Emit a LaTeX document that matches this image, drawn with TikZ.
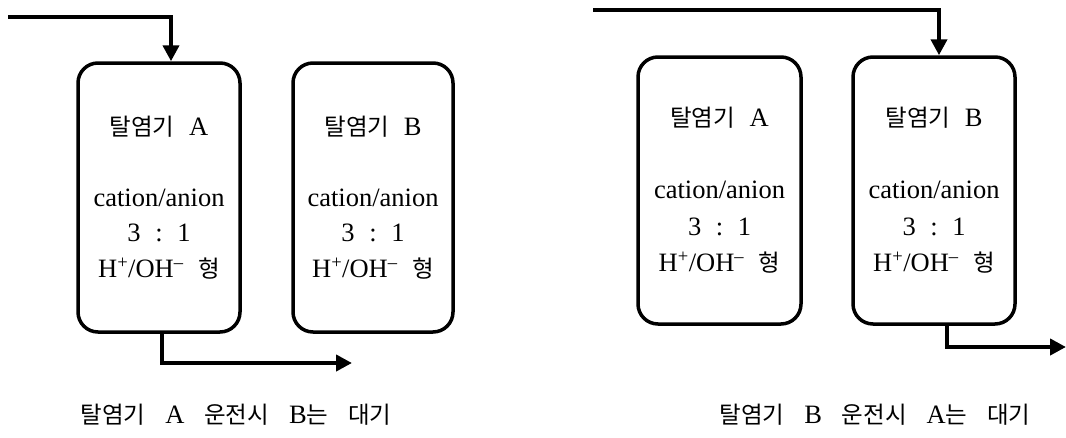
\documentclass[tikz,border=0pt]{standalone}
\usepackage{fontspec}
\setmainfont{Liberation Serif}
\newfontfamily\kr{Noto Sans CJK KR}
\usetikzlibrary{arrows.meta}
\newcommand{\K}[1]{{\kr\fontsize{23.5}{28}\selectfont #1}}
\newcommand{\wsp}{\hspace{0.55em}}
\newcommand{\csp}{\hspace{0.75em}}
\newcommand{\ionline}{H\textsuperscript{+}/OH\textsuperscript{--}\wsp\K{형}}
\begin{document}
\begin{tikzpicture}[x=1pt,y=-1pt,
  tank/.style={draw,line width=3.5pt,rounded corners=20pt,inner sep=0pt},
  flow/.style={line width=4pt,-{Triangle[length=16pt,width=16pt]}},
  lbl/.style={font=\fontsize{26.5}{30}\selectfont,inner sep=0pt,anchor=center},
  captext/.style={font=\fontsize{26.5}{30}\selectfont,inner sep=0pt,anchor=center}]
\useasboundingbox (0,0) rectangle (1066,437);
% left panel
\node[tank,minimum width=162pt,minimum height=269pt] (LA) at (159,197.5) {};
\node[tank,minimum width=160pt,minimum height=269pt] (LB) at (373,197.5) {};
\node[lbl] (LAt) at (159,127) {\K{탈염기}\wsp A};
\node[lbl] (LAc) at (159,198) {cation/anion};
\node[lbl] (LAr) at (159,233) {3\wsp:\wsp1};
\node[lbl] (LAi) at (159,269) {\ionline};
\node[lbl] (LBt) at (373,127) {\K{탈염기}\wsp B};
\node[lbl] (LBc) at (373,198) {cation/anion};
\node[lbl] (LBr) at (373,233) {3\wsp:\wsp1};
\node[lbl] (LBi) at (373,269) {\ionline};
\coordinate (Lin) at (8,17);
\coordinate (Lout) at (352,363);
\draw[flow] (Lin) -| ([xshift=12pt]LA.north);
\draw[flow] ([xshift=3pt]LA.south) |- (Lout);
\node[captext] (Lcap) at (236,415) {\K{탈염기}\csp A\csp \K{운전시}\csp B\K{는}\csp \K{대기}};
% right panel
\node[tank,minimum width=163pt,minimum height=267pt] (RA) at (719.5,190.5) {};
\node[tank,minimum width=162pt,minimum height=267pt] (RB) at (934,190.5) {};
\node[lbl] (RAt) at (719.5,118) {\K{탈염기}\wsp A};
\node[lbl] (RAc) at (719.5,190) {cation/anion};
\node[lbl] (RAr) at (719.5,227) {3\wsp:\wsp1};
\node[lbl] (RAi) at (719.5,263) {\ionline};
\node[lbl] (RBt) at (934,118) {\K{탈염기}\wsp B};
\node[lbl] (RBc) at (934,190) {cation/anion};
\node[lbl] (RBr) at (934,227) {3\wsp:\wsp1};
\node[lbl] (RBi) at (934,263) {\ionline};
\coordinate (Rin) at (593,10);
\coordinate (Rout) at (1066,347);
\draw[flow] (Rin) -| ([xshift=5pt]RB.north);
\draw[flow] ([xshift=13pt]RB.south) |- (Rout);
\node[captext] (Rcap) at (875,415) {\K{탈염기}\csp B\csp \K{운전시}\csp A\K{는}\csp \K{대기}};
\end{tikzpicture}
\end{document}
